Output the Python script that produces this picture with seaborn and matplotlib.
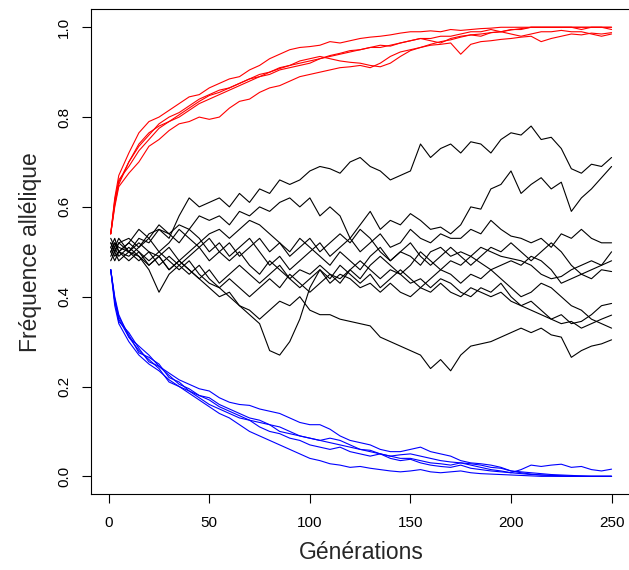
import matplotlib
matplotlib.use("Agg")
import matplotlib.pyplot as plt
import pandas as pd
import seaborn as sns

generations = [1, 3, 5, 10, 15, 20, 25, 30, 35, 40, 45, 50, 55,
               60, 65, 70, 75, 80, 85, 90, 95, 100, 105, 110, 115, 120,
               125, 130, 135, 140, 145, 150, 155, 160, 165, 170, 175, 180, 185,
               190, 195, 200, 205, 210, 215, 220, 225, 230, 235, 240, 245, 250]

# favoured allele (red)
up_1 = [0.54, 0.62, 0.67, 0.72, 0.765, 0.79, 0.80, 0.815, 0.83, 0.845, 0.85, 0.865, 0.875,
        0.885, 0.89, 0.905, 0.915, 0.93, 0.94, 0.95, 0.955, 0.957, 0.96, 0.968, 0.965, 0.97,
        0.975, 0.978, 0.98, 0.983, 0.987, 0.99, 0.99, 0.992, 0.99, 0.995, 0.993, 0.995, 0.997,
        0.998, 1.0, 1.0, 1.0, 1.0, 1.0, 1.0, 1.0, 1.0, 1.0, 1.0, 1.0, 1.0]
up_2 = [0.54, 0.60, 0.645, 0.675, 0.70, 0.735, 0.75, 0.77, 0.785, 0.79, 0.80, 0.795, 0.80,
        0.82, 0.835, 0.84, 0.855, 0.865, 0.87, 0.88, 0.89, 0.895, 0.90, 0.905, 0.91, 0.912,
        0.915, 0.91, 0.92, 0.935, 0.945, 0.95, 0.955, 0.96, 0.962, 0.965, 0.94, 0.962, 0.968,
        0.97, 0.973, 0.975, 0.978, 0.98, 0.968, 0.975, 0.98, 0.985, 0.983, 0.987, 0.985, 0.988]
up_3 = [0.54, 0.61, 0.655, 0.70, 0.735, 0.76, 0.785, 0.80, 0.81, 0.825, 0.84, 0.85, 0.86,
        0.865, 0.875, 0.885, 0.895, 0.90, 0.91, 0.915, 0.925, 0.93, 0.935, 0.93, 0.925, 0.922,
        0.92, 0.915, 0.912, 0.92, 0.935, 0.948, 0.955, 0.962, 0.968, 0.972, 0.978, 0.983, 0.98,
        0.988, 0.99, 0.994, 0.997, 1.0, 1.0, 1.0, 1.0, 1.0, 1.0, 1.0, 1.0, 1.0]
up_4 = [0.54, 0.615, 0.66, 0.69, 0.725, 0.75, 0.775, 0.79, 0.80, 0.815, 0.83, 0.84, 0.85,
        0.86, 0.87, 0.88, 0.89, 0.895, 0.905, 0.91, 0.915, 0.92, 0.93, 0.935, 0.94, 0.945,
        0.95, 0.955, 0.96, 0.958, 0.965, 0.97, 0.975, 0.97, 0.965, 0.975, 0.98, 0.983, 0.985,
        0.988, 0.99, 0.985, 0.98, 0.985, 0.99, 0.99, 0.993, 0.99, 0.99, 0.985, 0.98, 0.985]
up_5 = [0.54, 0.605, 0.65, 0.70, 0.74, 0.765, 0.78, 0.79, 0.805, 0.82, 0.835, 0.848, 0.855,
        0.865, 0.875, 0.885, 0.89, 0.90, 0.908, 0.915, 0.92, 0.925, 0.93, 0.937, 0.942, 0.948,
        0.95, 0.955, 0.955, 0.96, 0.965, 0.97, 0.975, 0.975, 0.98, 0.98, 0.985, 0.99, 0.99,
        0.995, 0.99, 0.995, 0.995, 1.0, 1.0, 1.0, 1.0, 1.0, 0.995, 1.0, 1.0, 0.995]

# disfavoured allele (blue)
down_1 = [0.46, 0.40, 0.36, 0.31, 0.29, 0.27, 0.245, 0.23, 0.215, 0.205, 0.195, 0.19, 0.175,
          0.165, 0.16, 0.158, 0.15, 0.145, 0.14, 0.13, 0.12, 0.115, 0.115, 0.105, 0.09, 0.08,
          0.075, 0.07, 0.06, 0.055, 0.055, 0.06, 0.065, 0.055, 0.05, 0.045, 0.035, 0.03, 0.028,
          0.025, 0.02, 0.012, 0.008, 0.005, 0.003, 0.002, 0.001, 0.0, 0.0, 0.0, 0.0, 0.0]
down_2 = [0.46, 0.38, 0.34, 0.30, 0.27, 0.25, 0.235, 0.215, 0.20, 0.19, 0.175, 0.16, 0.15,
          0.14, 0.13, 0.125, 0.12, 0.115, 0.10, 0.095, 0.09, 0.085, 0.08, 0.085, 0.08, 0.07,
          0.06, 0.055, 0.05, 0.045, 0.04, 0.04, 0.035, 0.03, 0.028, 0.025, 0.03, 0.025, 0.02,
          0.015, 0.012, 0.008, 0.015, 0.025, 0.022, 0.025, 0.027, 0.02, 0.022, 0.015, 0.012, 0.016]
down_3 = [0.46, 0.39, 0.35, 0.31, 0.28, 0.26, 0.24, 0.21, 0.20, 0.185, 0.17, 0.155, 0.14,
          0.13, 0.115, 0.10, 0.09, 0.08, 0.07, 0.06, 0.05, 0.04, 0.035, 0.028, 0.025, 0.02,
          0.022, 0.018, 0.015, 0.012, 0.01, 0.012, 0.015, 0.01, 0.008, 0.01, 0.012, 0.008, 0.006,
          0.005, 0.004, 0.003, 0.002, 0.001, 0.0, 0.0, 0.0, 0.0, 0.0, 0.0, 0.0, 0.0]
down_4 = [0.46, 0.39, 0.345, 0.32, 0.285, 0.255, 0.245, 0.225, 0.205, 0.195, 0.18, 0.17, 0.155,
          0.145, 0.135, 0.125, 0.11, 0.10, 0.095, 0.085, 0.08, 0.07, 0.065, 0.06, 0.065, 0.055,
          0.05, 0.045, 0.05, 0.04, 0.035, 0.038, 0.03, 0.025, 0.022, 0.02, 0.025, 0.018, 0.015,
          0.012, 0.01, 0.008, 0.006, 0.004, 0.003, 0.002, 0.001, 0.0, 0.0, 0.0, 0.0, 0.0]
down_5 = [0.46, 0.395, 0.355, 0.315, 0.275, 0.265, 0.25, 0.22, 0.21, 0.19, 0.18, 0.175, 0.16,
          0.15, 0.14, 0.13, 0.125, 0.115, 0.11, 0.10, 0.09, 0.085, 0.08, 0.075, 0.07, 0.065,
          0.06, 0.058, 0.05, 0.045, 0.048, 0.05, 0.045, 0.04, 0.035, 0.032, 0.03, 0.028, 0.025,
          0.02, 0.018, 0.012, 0.01, 0.008, 0.006, 0.004, 0.003, 0.002, 0.001, 0.0, 0.0, 0.0]

# neutral alleles (black)
neutral_a = [0.52, 0.50, 0.52, 0.53, 0.51, 0.54, 0.55, 0.53, 0.58, 0.62, 0.60, 0.61, 0.62,
             0.60, 0.63, 0.61, 0.64, 0.63, 0.66, 0.65, 0.66, 0.68, 0.69, 0.685, 0.675, 0.70,
             0.71, 0.69, 0.68, 0.66, 0.67, 0.68, 0.74, 0.71, 0.73, 0.74, 0.72, 0.745, 0.74,
             0.72, 0.75, 0.765, 0.76, 0.78, 0.75, 0.755, 0.73, 0.685, 0.675, 0.695, 0.69, 0.71]
neutral_b = [0.50, 0.52, 0.51, 0.50, 0.53, 0.52, 0.55, 0.54, 0.56, 0.55, 0.58, 0.57, 0.58,
             0.56, 0.59, 0.58, 0.60, 0.59, 0.61, 0.62, 0.60, 0.62, 0.58, 0.60, 0.58, 0.53,
             0.56, 0.59, 0.55, 0.57, 0.56, 0.585, 0.57, 0.55, 0.555, 0.54, 0.56, 0.60, 0.595,
             0.64, 0.65, 0.68, 0.63, 0.65, 0.665, 0.64, 0.655, 0.59, 0.62, 0.64, 0.665, 0.69]
neutral_c = [0.51, 0.53, 0.50, 0.52, 0.55, 0.53, 0.56, 0.54, 0.52, 0.55, 0.53, 0.50, 0.52,
             0.49, 0.51, 0.53, 0.50, 0.47, 0.49, 0.46, 0.48, 0.50, 0.52, 0.49, 0.51, 0.53,
             0.50, 0.52, 0.54, 0.51, 0.52, 0.55, 0.53, 0.52, 0.54, 0.53, 0.53, 0.55, 0.54,
             0.57, 0.55, 0.535, 0.53, 0.52, 0.53, 0.51, 0.54, 0.53, 0.55, 0.53, 0.52, 0.52]
neutral_d = [0.49, 0.51, 0.53, 0.50, 0.52, 0.50, 0.49, 0.51, 0.48, 0.50, 0.52, 0.54, 0.55,
             0.53, 0.55, 0.57, 0.56, 0.54, 0.52, 0.50, 0.53, 0.51, 0.49, 0.47, 0.50, 0.48,
             0.46, 0.49, 0.51, 0.48, 0.50, 0.49, 0.47, 0.50, 0.51, 0.49, 0.50, 0.49, 0.51,
             0.50, 0.49, 0.485, 0.48, 0.47, 0.45, 0.44, 0.445, 0.46, 0.47, 0.48, 0.47, 0.50]
neutral_e = [0.50, 0.48, 0.50, 0.49, 0.51, 0.53, 0.50, 0.52, 0.55, 0.53, 0.51, 0.53, 0.50,
             0.48, 0.50, 0.47, 0.45, 0.48, 0.46, 0.44, 0.46, 0.45, 0.47, 0.45, 0.43, 0.46,
             0.44, 0.47, 0.49, 0.47, 0.45, 0.47, 0.50, 0.48, 0.46, 0.48, 0.47, 0.49, 0.475,
             0.46, 0.47, 0.48, 0.47, 0.49, 0.48, 0.46, 0.43, 0.44, 0.45, 0.44, 0.46, 0.456]
neutral_f = [0.53, 0.51, 0.49, 0.51, 0.49, 0.47, 0.49, 0.46, 0.48, 0.46, 0.44, 0.46, 0.43,
             0.45, 0.47, 0.45, 0.43, 0.45, 0.47, 0.44, 0.42, 0.44, 0.46, 0.43, 0.45, 0.44,
             0.42, 0.43, 0.41, 0.43, 0.41, 0.40, 0.42, 0.41, 0.43, 0.41, 0.40, 0.42, 0.41,
             0.40, 0.41, 0.39, 0.38, 0.37, 0.36, 0.35, 0.36, 0.34, 0.345, 0.36, 0.38, 0.385]
neutral_g = [0.48, 0.50, 0.52, 0.50, 0.48, 0.50, 0.47, 0.49, 0.47, 0.45, 0.47, 0.44, 0.42,
             0.44, 0.42, 0.40, 0.42, 0.44, 0.42, 0.45, 0.43, 0.41, 0.43, 0.45, 0.44, 0.46,
             0.48, 0.46, 0.44, 0.46, 0.45, 0.43, 0.44, 0.42, 0.44, 0.43, 0.41, 0.40, 0.42,
             0.41, 0.43, 0.40, 0.38, 0.39, 0.37, 0.35, 0.34, 0.345, 0.33, 0.34, 0.35, 0.359]
neutral_h = [0.51, 0.49, 0.50, 0.52, 0.50, 0.48, 0.50, 0.48, 0.46, 0.48, 0.45, 0.43, 0.42,
             0.40, 0.38, 0.37, 0.35, 0.37, 0.39, 0.38, 0.40, 0.37, 0.36, 0.36, 0.35, 0.345,
             0.34, 0.335, 0.31, 0.30, 0.29, 0.28, 0.27, 0.24, 0.26, 0.235, 0.27, 0.29, 0.295,
             0.30, 0.31, 0.32, 0.33, 0.32, 0.33, 0.315, 0.31, 0.265, 0.28, 0.29, 0.295, 0.304]
neutral_i = [0.50, 0.52, 0.50, 0.48, 0.50, 0.47, 0.49, 0.46, 0.48, 0.46, 0.44, 0.42, 0.40,
             0.41, 0.38, 0.36, 0.34, 0.28, 0.27, 0.30, 0.35, 0.42, 0.46, 0.44, 0.47, 0.45,
             0.43, 0.45, 0.42, 0.44, 0.46, 0.44, 0.42, 0.44, 0.46, 0.45, 0.43, 0.45, 0.44,
             0.46, 0.44, 0.42, 0.40, 0.41, 0.43, 0.42, 0.40, 0.38, 0.37, 0.35, 0.34, 0.33]
neutral_j = [0.52, 0.50, 0.48, 0.50, 0.49, 0.46, 0.41, 0.45, 0.47, 0.49, 0.51, 0.48, 0.50,
             0.52, 0.49, 0.51, 0.53, 0.50, 0.52, 0.49, 0.51, 0.53, 0.50, 0.52, 0.54, 0.52,
             0.55, 0.53, 0.50, 0.48, 0.50, 0.52, 0.49, 0.47, 0.49, 0.51, 0.49, 0.47, 0.49,
             0.51, 0.50, 0.52, 0.50, 0.48, 0.50, 0.52, 0.50, 0.47, 0.45, 0.46, 0.47, 0.48]

groups = {
    "neutre": [neutral_a, neutral_b, neutral_c, neutral_d, neutral_e,
               neutral_f, neutral_g, neutral_h, neutral_i, neutral_j],
    "favorable": [up_1, up_2, up_3, up_4, up_5],
    "defavorable": [down_1, down_2, down_3, down_4, down_5],
}
palette = {"neutre": "black", "favorable": "#FF0000", "defavorable": "#0000FF"}

frames = []
for kind, trajs in groups.items():
    for i, traj in enumerate(trajs):
        assert len(traj) == len(generations), (kind, i, len(traj))
        frames.append(pd.DataFrame({"gen": generations, "freq": traj,
                                    "kind": kind, "rep": f"{kind}_{i}"}))
df = pd.concat(frames, ignore_index=True)

sns.set_style("ticks")
plt.rcParams["font.family"] = ["Liberation Sans", "DejaVu Sans"]

fig = plt.figure(figsize=(6.29, 5.70), dpi=100)
ax = fig.add_axes([90.7 / 629, 75.7 / 570, 540.9 / 629, 485.0 / 570])

sns.lineplot(data=df, x="gen", y="freq", hue="kind", units="rep", estimator=None,
             palette=palette, linewidth=0.8, legend=False, sort=False, ax=ax)

ax.set_xlim(1 - 0.04 * 249, 250 + 0.04 * 249)
ax.set_ylim(-0.04, 1.04)
ax.set_xticks([0, 50, 100, 150, 200, 250])
ax.set_yticks([0.0, 0.2, 0.4, 0.6, 0.8, 1.0])
ax.set_yticklabels(["0.0", "0.2", "0.4", "0.6", "0.8", "1.0"])

for side in ["left", "right", "top", "bottom"]:
    ax.spines[side].set_visible(True)
    ax.spines[side].set_color("black")
    ax.spines[side].set_linewidth(0.8)

ax.tick_params(axis="both", direction="out", length=6.5, width=0.8, color="black",
               labelsize=11, labelcolor="black")
ax.tick_params(axis="x", pad=9)
ax.tick_params(axis="y", pad=7.5, labelrotation=90)
for lab in ax.get_yticklabels():
    lab.set_va("center")

ax.set_xlabel("Générations", fontsize=16.5, va="center")
ax.set_ylabel("Fréquence allélique", fontsize=16.5)
ax.xaxis.set_label_coords(0.5, -0.119)
ax.yaxis.label.set_va("center")
ax.yaxis.set_label_coords(-0.112, 0.5)

fig.savefig("out.png", dpi=100)
